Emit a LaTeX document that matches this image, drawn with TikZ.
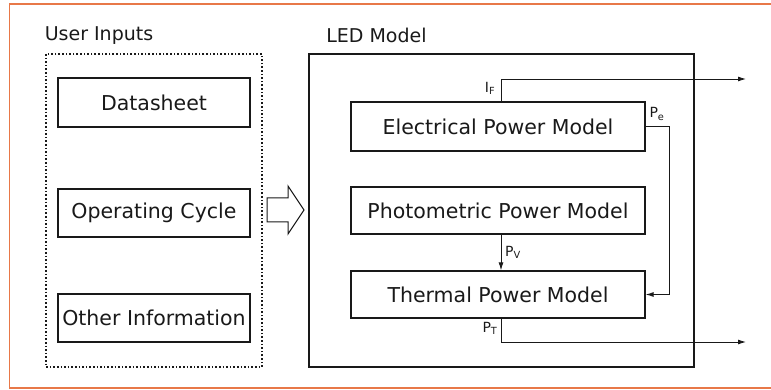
\documentclass[tikz,border=0pt]{standalone}
\usepackage{fontspec}
\setmainfont{DejaVu Sans}
\usetikzlibrary{arrows.meta,calc}
\definecolor{frameorange}{RGB}{232,120,72}
\definecolor{ink}{RGB}{25,25,25}
\begin{document}
\begin{tikzpicture}[x=1pt,y=-1pt,
  modelbox/.style={draw=ink,line width=1.3pt,minimum width=294pt,inner sep=0pt,
    font=\fontsize{20.5}{24}\selectfont,text=ink},
  inbox/.style={draw=ink,line width=1.3pt,minimum width=192pt,minimum height=48pt,inner sep=0pt,
    font=\fontsize{20.5}{24}\selectfont,text=ink},
  title/.style={font=\fontsize{19}{22}\selectfont,text=ink,inner sep=0pt},
  sig/.style={font=\fontsize{14}{16}\selectfont,text=ink,inner sep=0pt},
  wire/.style={draw=ink,line width=0.9pt},
  tip/.style={-{Latex[length=8pt,width=5pt]}}
]
\useasboundingbox (0,0) rectangle (771,390);
\draw[frameorange,line width=1.5pt] (771,4) -- (9.5,4) -- (9.5,388) -- (771,388);

% user inputs
\node[title] (uit) at (99,36) {User Inputs};
\draw[ink,line width=1.6pt,dotted] (46,54) rectangle (262,367);
\coordinate (dotbox) at (262,210);
\node[inbox,minimum height=49pt] (ds) at (154,102.5) {Datasheet};
\node[inbox] (oc) at (154,213) {Operating Cycle};
\node[inbox] (oi) at (154,318) {Other Information};

% hollow arrow
\draw[ink,line width=1pt,fill=white] (267,198) -- (288,198) -- (288,186) -- (304,210)
  -- (288,234) -- (288,222) -- (267,222) -- cycle;

% LED model
\node[title] (ledt) at (376.5,35) {LED Model};
\draw[ink,line width=2.6pt] (309,54) rectangle (694,367);
\node[modelbox,minimum height=49pt] (elec) at (498,126.5) {Electrical Power Model};
\node[modelbox,minimum height=47pt] (photo) at (498,210.5) {Photometric Power Model};
\node[modelbox,minimum height=47pt] (therm) at (498,294.5) {Thermal Power Model};

\coordinate (ifend) at (746,79);
\coordinate (ptend) at (746,342);

\draw[wire,tip] ($(elec.north)+(3,0)$) |- (ifend);
\draw[wire,tip] (elec.east) -- ++(24,0) |- (therm.east);
\draw[wire,tip] ($(photo.south)+(3,0)$) -- ($(therm.north)+(3,0)$);
\draw[wire,tip] ($(therm.south)+(3,0)$) |- (ptend);

\node[sig] (lif) at (490,88) {I\textsubscript{F}};
\node[sig] (lpe) at (657,114) {P\textsubscript{e}};
\node[sig] (lpv) at (513,252) {P\textsubscript{V}};
\node[sig] (lpt) at (490,328) {P\textsubscript{T}};
\end{tikzpicture}
\end{document}
